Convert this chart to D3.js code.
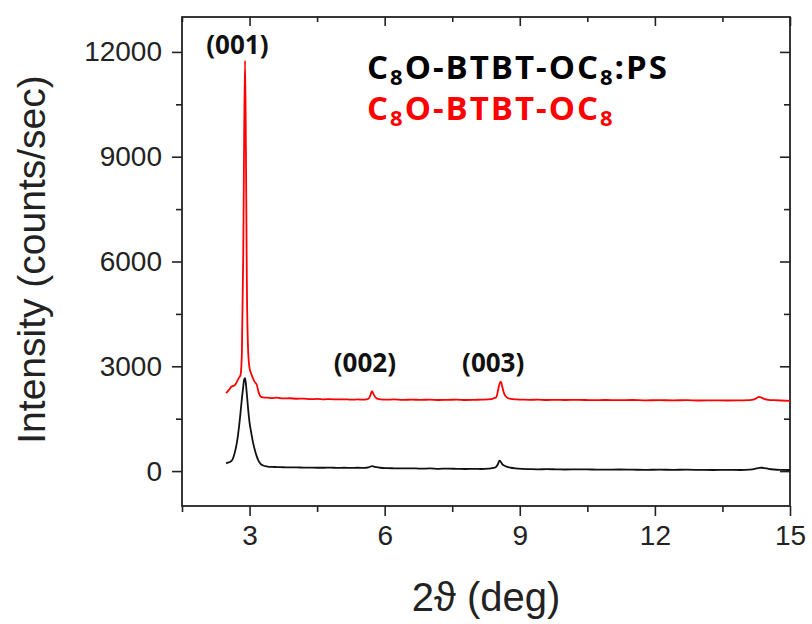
<!DOCTYPE html>
<html>
<head>
<meta charset="utf-8">
<script src="https://cdn.jsdelivr.net/npm/d3@7"></script>
<style>
  html, body { margin: 0; padding: 0; background: #fff; }
  svg { display: block; }
</style>
</head>
<body>
<svg id="chart" width="812" height="624"></svg>
<script>
// ---------- data ----------
const twoTheta = [2.48,2.52,2.56,2.60,2.64,2.68,2.72,2.76,2.80,
  2.83,2.86,2.88,2.90,2.92,2.94,2.97,3.00,
  3.04,3.08,3.12,3.16,3.20,3.25,3.30,
  3.40,3.50,3.60,3.75,3.90,4.05,4.20,4.35,4.50,4.65,4.80,4.95,5.10,5.25,5.40,5.55,
  5.64,5.68,5.72,5.76,5.82,5.90,
  6.05,6.20,6.40,6.60,6.80,7.00,7.20,7.40,7.60,7.80,8.00,8.15,8.30,8.42,
  8.48,8.52,8.55,8.58,8.61,8.65,8.71,8.80,8.90,
  9.05,9.20,9.40,9.60,9.80,10.00,10.30,10.60,10.90,11.20,11.50,11.80,12.10,12.40,12.70,13.00,13.30,13.60,13.90,14.10,
  14.20,14.26,14.31,14.37,14.44,14.52,14.65,14.80,15.00];

// C8O-BTBT-OC8 (red)
const intensityPure = [2230,2290,2350,2420,2440,2470,2560,2660,2750,
  3400,6200,9600,11750,9100,5400,3400,2950,
  2780,2640,2540,2470,2260,2130,2110,
  2100,2090,2100,2080,2085,2070,2075,2060,2065,2055,2060,2050,2055,2045,2050,2045,
  2070,2160,2290,2180,2080,2055,
  2045,2050,2040,2045,2040,2045,2035,2040,2045,2035,2040,2045,2050,2080,
  2120,2330,2500,2560,2420,2230,2110,2065,2050,
  2045,2040,2045,2035,2040,2035,2040,2030,2035,2030,2035,2025,2030,2025,2030,2020,2025,2020,2025,2030,
  2050,2090,2125,2100,2060,2040,2030,2020,2010];

// C8O-BTBT-OC8:PS (black)
const intensityBlend = [220,240,260,290,390,570,820,1200,1680,
  2080,2420,2620,2660,2480,2200,1750,1390,
  1080,800,590,420,290,200,160,
  130,120,115,110,105,105,100,100,95,95,100,90,95,90,95,90,
  105,125,140,130,110,95,
  85,80,75,80,70,75,65,70,65,60,65,60,70,90,
  130,210,300,260,200,160,125,95,75,
  60,55,50,55,50,45,50,45,40,45,40,35,40,35,40,35,30,35,30,40,
  55,75,90,95,85,65,45,35,30];

const xTicks = [3, 6, 9, 12, 15];
const xMinorTicks = [1.5, 4.5, 7.5, 10.5, 13.5];
const yTicks = [0, 3000, 6000, 9000, 12000];
const yMinorTicks = [1500, 4500, 7500, 10500];

const peakLabels = ["(001)", "(002)", "(003)"];
const peakPositions = [2.73, 5.56, 8.41];
const peakLabelLevels = [11950, 2850, 2850];

// ---------- layout ----------
const svg = d3.select("#chart");
const L = 182, R = 790, T = 17, B = 506;
const x = d3.scaleLinear().domain([1.5, 15]).range([L, R]);
const y = d3.scaleLinear().domain([-1000, 13000]).range([B, T]);

const tickFont = "'Liberation Sans', Arial, sans-serif";

function styleAxis(g) {
  g.selectAll("path.domain").remove();
  g.selectAll("line").attr("stroke", "#222").attr("stroke-width", 1.6);
  g.selectAll("text").attr("font-family", tickFont).attr("font-size", 28).attr("fill", "#222");
}

// bottom axis (outward)
svg.append("g").attr("transform", `translate(0,${B})`)
  .call(d3.axisBottom(x).tickValues(xTicks).tickSize(10).tickPadding(9).tickFormat(d3.format("d")))
  .call(styleAxis);
svg.append("g").attr("transform", `translate(0,${B})`)
  .call(d3.axisBottom(x).tickValues(xMinorTicks).tickSize(6).tickFormat(""))
  .call(styleAxis);
// top axis (inward)
svg.append("g").attr("transform", `translate(0,${T})`)
  .call(d3.axisBottom(x).tickValues(xTicks).tickSize(9).tickFormat(""))
  .call(styleAxis);
svg.append("g").attr("transform", `translate(0,${T})`)
  .call(d3.axisBottom(x).tickValues(xMinorTicks).tickSize(5).tickFormat(""))
  .call(styleAxis);
// left axis (outward)
svg.append("g").attr("transform", `translate(${L},0)`)
  .call(d3.axisLeft(y).tickValues(yTicks).tickSize(10).tickPadding(10).tickFormat(d3.format("d")))
  .call(styleAxis);
svg.append("g").attr("transform", `translate(${L},0)`)
  .call(d3.axisLeft(y).tickValues(yMinorTicks).tickSize(6).tickFormat(""))
  .call(styleAxis);
// right axis (inward)
svg.append("g").attr("transform", `translate(${R},0)`)
  .call(d3.axisLeft(y).tickValues(yTicks).tickSize(10).tickFormat(""))
  .call(styleAxis);
svg.append("g").attr("transform", `translate(${R},0)`)
  .call(d3.axisLeft(y).tickValues(yMinorTicks).tickSize(6).tickFormat(""))
  .call(styleAxis);

// frame
svg.append("rect")
  .attr("x", L).attr("y", T).attr("width", R - L).attr("height", B - T)
  .attr("fill", "none").attr("stroke", "#222").attr("stroke-width", 1.8);

// lines
const lineGen = vals => d3.line()
  .x((d, i) => x(twoTheta[i]))
  .y(d => y(d))
  .curve(d3.curveMonotoneX)(vals);

svg.append("path").attr("d", lineGen(intensityBlend))
  .attr("fill", "none").attr("stroke", "#111").attr("stroke-width", 1.8);
svg.append("path").attr("d", lineGen(intensityPure))
  .attr("fill", "none").attr("stroke", "#ff0000").attr("stroke-width", 1.8);

// peak labels
const boldFont = "'Open Sans', 'Noto Sans', sans-serif";
svg.selectAll("text.peak").data(peakLabels).enter().append("text")
  .attr("class", "peak")
  .attr("x", (d, i) => x(peakPositions[i]))
  .attr("y", (d, i) => y(peakLabelLevels[i]))
  .attr("text-anchor", "middle")
  .attr("font-family", boldFont).attr("font-weight", 700).attr("font-size", 26)
  .attr("fill", "#111")
  .text(d => d);

// legend
function legendLine(parts, lx, ly, color) {
  const t = svg.append("text").attr("x", lx).attr("y", ly)
    .attr("font-family", boldFont).attr("font-weight", 700).attr("font-size", 33)
    .attr("letter-spacing", 2).attr("fill", color);
  let sub = false;
  parts.forEach(p => {
    const isSub = p.startsWith("_");
    const txt = isSub ? p.slice(1) : p;
    const ts = t.append("tspan").text(txt);
    if (isSub && !sub) { ts.attr("font-size", 22).attr("dy", 6); sub = true; }
    else if (!isSub && sub) { ts.attr("dy", -6); sub = false; }
  });
}
legendLine(["C", "_8", "O-BTBT-OC", "_8", ":PS"], 367, 79, "#000");
legendLine(["C", "_8", "O-BTBT-OC", "_8"], 367, 120, "#ff0000");

// axis titles
svg.append("text")
  .attr("transform", `translate(45,${(T + B) / 2 - 2}) rotate(-90)`)
  .attr("text-anchor", "middle")
  .attr("font-family", tickFont).attr("font-size", 39).attr("fill", "#222")
  .text("Intensity (counts/sec)");
svg.append("text")
  .attr("x", (L + R) / 2).attr("y", 611)
  .attr("text-anchor", "middle")
  .attr("font-family", tickFont).attr("font-size", 40).attr("fill", "#222")
  .text("2\u03D1 (deg)");
</script>
</body>
</html>
